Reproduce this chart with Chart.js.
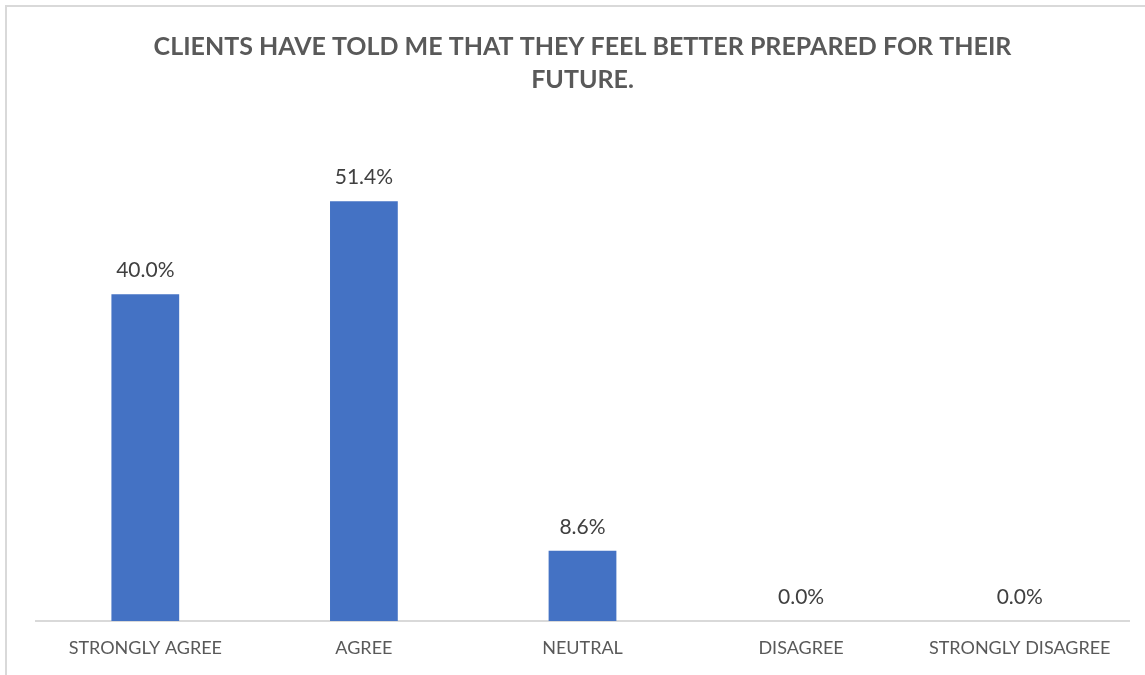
<!DOCTYPE html>
<html>
<head>
<meta charset="utf-8">
<script src="https://cdn.jsdelivr.net/npm/chart.js@4/dist/chart.umd.min.js"></script>
<style>
  html, body { margin: 0; padding: 0; background: #fff; }
  #frame { position: absolute; left: 5px; top: 5px; width: 1150px; height: 680px; border: 2px solid #d9d9d9; box-sizing: border-box; }
  #wrap { position: absolute; left: 0; top: 0; width: 1145px; height: 675px; }
</style>
</head>
<body>
<div id="frame"></div>
<div id="wrap"><canvas id="chart"></canvas></div>
<script>
const categories = ['STRONGLY AGREE', 'AGREE', 'NEUTRAL', 'DISAGREE', 'STRONGLY DISAGREE'];
const shares = [40.0, 51.4, 8.6, 0.0, 0.0];
const titleLines = ['CLIENTS HAVE TOLD ME THAT THEY FEEL BETTER PREPARED FOR THEIR', 'FUTURE.'];

const FONT = 'Lato, "Open Sans", sans-serif';

// value labels above each bar
const valueLabels = {
  id: 'valueLabels',
  afterDatasetsDraw(chart) {
    const c = chart.ctx;
    const meta = chart.getDatasetMeta(0);
    c.save();
    c.font = '21px ' + FONT;
    c.fillStyle = '#404040';
    c.textAlign = 'center';
    c.textBaseline = 'middle';
    meta.data.forEach((bar, i) => {
      c.fillText(shares[i].toFixed(1) + '%', bar.x, bar.y - 24);
    });
    c.restore();
  }
};

new Chart(document.getElementById('chart'), {
  type: 'bar',
  data: {
    labels: categories,
    datasets: [{
      data: shares,
      backgroundColor: '#4472c4',
      barPercentage: 1,
      categoryPercentage: 0.31
    }]
  },
  plugins: [valueLabels],
  options: {
    responsive: true,
    maintainAspectRatio: false,
    animation: false,
    layout: { padding: { left: 36, right: 16, top: 0, bottom: 0 } },
    plugins: {
      legend: { display: false },
      tooltip: { enabled: false },
      title: {
        display: true,
        text: titleLines,
        color: '#595959',
        font: { family: FONT, size: 25, weight: 'bold', lineHeight: 1.32 },
        padding: { top: 30, bottom: 35 }
      }
    },
    scales: {
      x: {
        grid: { display: false, drawTicks: false },
        border: { color: '#d9d9d9', width: 2 },
        ticks: { color: '#595959', font: { family: FONT, size: 18 }, padding: 16, maxRotation: 0 },
        afterFit(scale) { scale.height = 54; }
      },
      y: {
        display: false,
        min: 0,
        max: 60
      }
    }
  }
});
</script>
</body>
</html>
